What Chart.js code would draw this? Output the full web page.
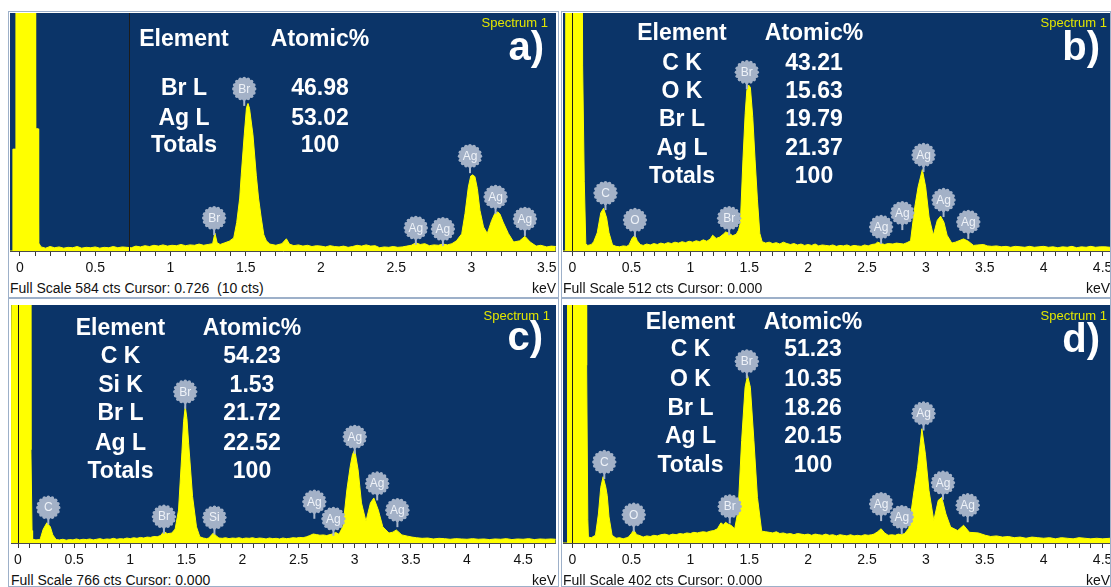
<!DOCTYPE html>
<html><head><meta charset="utf-8">
<script src="https://cdn.jsdelivr.net/npm/chart.js@4.4.0/dist/chart.umd.min.js"></script>
<style>
html,body{margin:0;padding:0;background:#fff}
body{width:1111px;height:587px;overflow:hidden;position:relative;font-family:"Liberation Sans",Arial,sans-serif}
.frame{position:absolute;border:1px solid #9db0c9;box-sizing:border-box}
canvas{position:absolute}
.t{position:absolute;transform:translate(-50%,-50%);white-space:nowrap;color:#fff;font-weight:bold;font-size:23px;line-height:1}
.lt{position:absolute;white-space:pre;line-height:1}
</style></head><body>
<script>
// ---------------- DATA ----------------
const fullScale = [584, 512, 766, 402];
const cursorKeV = [0.726, 0, 0, 0];
const cursorText = ['0.726  (10 cts)', '0.000', '0.000', '0.000'];
const panelTags = ['a)', 'b)', 'c)', 'd)'];
const tickLabelsA = [0, 0.5, 1, 1.5, 2, 2.5, 3, 3.5];
const tickLabelsB = [0, 0.5, 1, 1.5, 2, 2.5, 3, 3.5, 4, 4.5];

const aEnergy = [-0.066,-0.05,-0.047,-0.03,-0.027,0.10,0.104,0.12,0.124,0.14,0.17,0.2,0.23,0.26,0.29,0.32,0.35,0.38,0.41,0.44,0.47,0.5,0.53,0.56,0.59,0.62,0.65,0.68,0.71,0.74,0.77,0.8,0.83,0.86,0.89,0.92,0.95,0.98,1.01,1.04,1.07,1.1,1.13,1.16,1.19,1.22,1.25,1.28,1.295,1.31,1.33,1.36,1.39,1.42,1.44,1.46,1.47,1.49,1.505,1.515,1.525,1.548,1.57,1.585,1.603,1.62,1.637,1.66,1.7,1.74,1.77,1.79,1.82,1.85,1.88,1.91,1.94,1.97,2.0,2.03,2.06,2.09,2.12,2.15,2.18,2.21,2.24,2.27,2.3,2.33,2.36,2.39,2.42,2.45,2.48,2.51,2.54,2.57,2.6,2.63,2.66,2.69,2.72,2.75,2.78,2.81,2.84,2.87,2.90,2.935,2.957,2.979,2.995,3.01,3.023,3.039,3.056,3.08,3.105,3.134,3.155,3.175,3.19,3.21,3.245,3.28,3.32,3.355,3.39,3.43,3.46,3.5,3.53,3.56];
const aCounts = [0,0,250,250,900,900,300,300,20,10,7,11,8,10,7,9,8,11,7,9,8,10,7,9,8,11,8,10,9,8,12,10,13,11,14,12,15,12,14,13,16,13,15,14,17,14,16,18,44,20,16,20,24,32,70,130,186,285,352,362,350,285,186,130,81,40,25,17,14,18,30,17,13,15,12,14,11,13,12,10,13,11,10,12,9,11,14,12,15,12,13,8,10,9,11,9,10,12,14,20,16,18,13,15,14,17,15,18,25,42,92,157,184,187,182,153,100,59,43,75,92,96,90,71,43,22,25,36,22,12,14,10,12,11];

const bEnergy = [-0.081,-0.06,-0.055,0.08,0.086,0.10,0.113,0.13,0.16,0.18,0.21,0.24,0.264,0.29,0.31,0.34,0.37,0.4,0.43,0.46,0.48,0.505,0.53,0.55,0.575,0.6,0.63,0.66,0.69,0.72,0.75,0.78,0.81,0.84,0.87,0.9,0.93,0.96,0.99,1.02,1.05,1.08,1.11,1.14,1.17,1.19,1.22,1.25,1.28,1.30,1.33,1.36,1.39,1.41,1.425,1.447,1.466,1.48,1.495,1.51,1.53,1.55,1.57,1.59,1.61,1.64,1.67,1.7,1.73,1.76,1.79,1.82,1.85,1.88,1.91,1.94,1.97,2.0,2.03,2.06,2.09,2.12,2.15,2.18,2.21,2.24,2.27,2.3,2.33,2.36,2.39,2.42,2.45,2.48,2.51,2.54,2.57,2.59,2.62,2.65,2.68,2.72,2.75,2.78,2.81,2.84,2.87,2.906,2.934,2.97,2.998,3.027,3.063,3.097,3.125,3.153,3.18,3.22,3.25,3.28,3.32,3.36,3.405,3.44,3.49,3.52,3.56,3.6,3.64,3.68,3.72,3.76,3.8,3.84,3.88,3.92,3.96,4.0,4.04,4.08,4.12,4.16,4.2,4.24,4.28,4.32,4.36,4.4,4.44,4.48,4.52,4.565];
const bCounts = [0,0,900,900,400,150,15,12,14,20,39,82,92,71,39,13,10,9,11,10,13,27,34,22,14,12,15,13,16,14,17,15,18,16,19,17,20,18,21,19,22,20,24,21,26,34,27,30,36,41,38,33,36,45,60,196,296,346,357,352,289,196,110,38,20,17,19,16,18,15,19,16,14,16,13,15,12,14,12,15,11,13,12,11,13,10,12,11,13,10,12,11,10,13,11,14,15,19,16,14,16,15,17,16,15,18,22,95,138,175,138,73,34,66,75,62,34,17,19,22,26,21,12,13,14,11,10,11,9,10,8,10,9,8,10,8,9,10,8,9,7,9,8,10,7,9,8,10,8,9,9,8];

const cEnergy = [-0.065,-0.058,-0.053,0.11,0.115,0.125,0.13,0.16,0.19,0.2,0.224,0.257,0.288,0.31,0.34,0.37,0.4,0.43,0.46,0.49,0.52,0.55,0.58,0.61,0.64,0.67,0.7,0.73,0.76,0.79,0.82,0.85,0.88,0.91,0.94,0.97,1.0,1.03,1.06,1.09,1.12,1.15,1.18,1.21,1.24,1.27,1.30,1.33,1.37,1.40,1.43,1.46,1.475,1.49,1.505,1.52,1.555,1.59,1.62,1.65,1.68,1.70,1.74,1.77,1.79,1.82,1.85,1.88,1.91,1.94,1.97,2.0,2.03,2.06,2.09,2.12,2.15,2.18,2.21,2.24,2.27,2.3,2.33,2.36,2.39,2.42,2.45,2.48,2.51,2.54,2.57,2.6,2.63,2.66,2.69,2.72,2.75,2.78,2.81,2.83,2.86,2.895,2.93,2.96,2.98,3.0,3.03,3.06,3.10,3.14,3.17,3.21,3.25,3.305,3.34,3.37,3.42,3.47,3.51,3.55,3.6,3.65,3.7,3.75,3.8,3.85,3.9,3.95,4.0,4.05,4.1,4.15,4.2,4.25,4.3,4.35,4.4,4.45,4.5,4.55,4.6,4.65,4.7,4.75,4.79];
const cCounts = [0,0,900,900,300,40,12,10,11,15,44,65,52,26,11,10,12,9,11,10,13,10,12,11,13,10,12,14,11,13,12,15,12,14,13,16,14,17,15,18,16,19,18,21,20,24,37,30,32,45,106,290,390,440,400,321,150,52,20,16,14,16,32,22,16,15,17,14,16,15,17,14,16,15,17,14,16,15,13,16,14,15,13,16,14,15,17,16,18,17,20,24,29,27,25,26,24,27,30,34,28,54,171,247,285,300,235,129,70,129,145,106,52,32,35,42,26,22,19,17,15,16,13,15,14,12,14,13,12,14,12,13,11,13,12,14,11,13,12,14,11,13,12,13,12];

const dEnergy = [-0.081,-0.046,-0.042,0.115,0.12,0.13,0.135,0.16,0.195,0.22,0.24,0.26,0.283,0.295,0.31,0.336,0.37,0.4,0.43,0.46,0.475,0.5,0.52,0.545,0.565,0.6,0.63,0.66,0.69,0.72,0.75,0.785,0.82,0.85,0.88,0.91,0.94,0.97,1.0,1.03,1.06,1.08,1.11,1.14,1.17,1.2,1.23,1.26,1.28,1.30,1.32,1.345,1.377,1.406,1.436,1.465,1.486,1.51,1.54,1.57,1.606,1.64,1.67,1.7,1.73,1.76,1.79,1.82,1.85,1.88,1.91,1.94,1.97,2.0,2.03,2.06,2.09,2.12,2.15,2.18,2.21,2.24,2.27,2.3,2.33,2.36,2.39,2.42,2.45,2.48,2.51,2.54,2.56,2.59,2.62,2.65,2.68,2.71,2.74,2.765,2.79,2.82,2.855,2.9,2.93,2.966,2.996,3.026,3.067,3.105,3.135,3.17,3.21,3.27,3.32,3.37,3.445,3.505,3.55,3.6,3.65,3.7,3.75,3.8,3.85,3.9,3.95,4.0,4.05,4.1,4.15,4.2,4.25,4.3,4.35,4.4,4.45,4.5,4.565];
const dCounts = [0,0,900,900,300,40,10,9,13,49,94,112,94,80,44,13,8,9,7,9,10,16,22,14,13,10,12,11,13,12,14,15,13,15,14,16,15,17,16,18,17,18,19,18,20,21,24,34,31,35,32,30,24,55,173,263,283,263,173,77,20,19,18,17,19,16,17,15,16,14,16,15,14,15,13,15,14,13,15,13,14,12,14,13,12,14,12,13,12,14,13,14,15,19,24,17,13,14,13,15,14,16,25,89,128,193,150,89,38,72,77,49,27,21,30,18,17,13,11,12,10,11,9,10,8,10,9,8,9,7,9,8,7,9,8,7,8,7,8];

// peak identification markers
const aPeakEl = ['Br','Br','Ag','Ag','Ag','Ag','Ag'];
const aPeakE  = [1.29,1.49,2.63,2.81,2.99,3.16,3.355];
const aPeakC  = [39,356,15,12,191,91,37];
const bPeakEl = ['C','O','Br','Br','Ag','Ag','Ag','Ag','Ag'];
const bPeakE  = [0.28,0.53,1.33,1.48,2.62,2.80,2.98,3.15,3.36];
const bPeakC  = [88,30,34,348,15,45,170,73,26];
const cPeakEl = ['C','Br','Br','Si','Ag','Ag','Ag','Ag','Ag'];
const cPeakE  = [0.27,1.30,1.49,1.75,2.64,2.81,3.00,3.20,3.38];
const cPeakC  = [59,30,432,27,78,23,287,137,51];
const dPeakEl = ['C','O','Br','Br','Ag','Ag','Ag','Ag','Ag'];
const dPeakE  = [0.27,0.52,1.335,1.48,2.62,2.795,2.98,3.145,3.355];
const dPeakC  = [108,19,33,278,37,15,190,73,35];

// quantification tables
const aElements = ['Br L','Ag L','Totals'];
const aAtomic   = ['46.98','53.02','100'];
const bElements = ['C K','O K','Br L','Ag L','Totals'];
const bAtomic   = ['43.21','15.63','19.79','21.37','100'];
const cElements = ['C K','Si K','Br L','Ag L','Totals'];
const cAtomic   = ['54.23','1.53','21.72','22.52','100'];
const dElements = ['C K','O K','Br L','Ag L','Totals'];
const dAtomic   = ['51.23','10.35','18.26','20.15','100'];

// ---------------- LAYOUT ----------------
const panels = [
  {E:aEnergy,C:aCounts,PE:aPeakE,PC:aPeakC,PL:aPeakEl,rows:aElements,vals:aAtomic,majors:tickLabelsA,
   left:10,top:13,w:546,xmin:-0.0664,xmax:3.5615,
   colX:[184,320],headY:38,rowY:[87,117,144],tagRight:544,tagTop:26,specRight:548,specTop:16,
   frame:[8,11,551,287],textTop:280.5},
  {E:bEnergy,C:bCounts,PE:bPeakE,PC:bPeakC,PL:bPeakEl,rows:bElements,vals:bAtomic,majors:tickLabelsB,
   left:563,top:13,w:547,xmin:-0.0806,xmax:4.563,
   colX:[682,814],headY:32,rowY:[62,90,118,147,175],tagRight:1100,tagTop:26,specRight:1107,specTop:16,
   frame:[561,11,550,287],textTop:280.5},
  {E:cEnergy,C:cCounts,PE:cPeakE,PC:cPeakC,PL:cPeakEl,rows:cElements,vals:cAtomic,majors:tickLabelsB,
   left:11,top:305,w:545,xmin:-0.0624,xmax:4.793,
   colX:[120.5,252],headY:327,rowY:[355,384,412,441.5,470],tagRight:543,tagTop:316,specRight:550,specTop:309,
   frame:[8,298,551,289],textTop:572.5},
  {E:dEnergy,C:dCounts,PE:dPeakE,PC:dPeakC,PL:dPeakEl,rows:dElements,vals:dAtomic,majors:tickLabelsB,
   left:563,top:305,w:547,xmin:-0.0806,xmax:4.563,
   colX:[690.5,813],headY:321,rowY:[348,377.5,406.5,435,463.5],tagRight:1100,tagTop:318,specRight:1107,specTop:309,
   frame:[561,298,550,289],textTop:572.5}
];
const PLOT_H = 238, AXIS_H = 26;
const BLUE = '#0b3468', YEL = '#ffff00';

function addDiv(cls, text, css){
  const d = document.createElement('div'); d.className = cls; d.textContent = text;
  Object.assign(d.style, css); document.body.appendChild(d); return d;
}

const bgPlugin = {
  id:'bg',
  beforeDatasetsDraw(chart){
    const {ctx, chartArea:a} = chart;
    ctx.save(); ctx.fillStyle = BLUE; ctx.fillRect(a.left, a.top, a.right-a.left, a.bottom-a.top); ctx.restore();
  }
};

const markPlugin = {
  id:'marks',
  afterDatasetsDraw(chart, args, opts){
    const {ctx, chartArea:a} = chart;
    const xs = chart.scales.x, ys = chart.scales.y;
    ctx.save();
    // cursor
    const cx = Math.round(xs.getPixelForValue(opts.cursor)) + 0.5;
    ctx.strokeStyle = '#1c1c1c'; ctx.lineWidth = 1;
    ctx.beginPath(); ctx.moveTo(cx, a.top); ctx.lineTo(cx, a.bottom); ctx.stroke();
    // peak markers
    opts.PE.forEach((e, i) => {
      const px = xs.getPixelForValue(e), py = ys.getPixelForValue(opts.PC[i]);
      const cy = py - 17;
      ctx.strokeStyle = '#a9b7cc'; ctx.lineWidth = 2;
      ctx.beginPath(); ctx.moveTo(px, cy); ctx.lineTo(px, py); ctx.stroke();
      ctx.fillStyle = '#a3b1c7';
      for (let k = 0; k < 16; k++) {
        const an = k * Math.PI * 2 / 16;
        ctx.beginPath(); ctx.arc(px + Math.cos(an)*10.4, cy + Math.sin(an)*10.4, 1.8, 0, Math.PI*2); ctx.fill();
      }
      ctx.beginPath(); ctx.arc(px, cy, 10.8, 0, Math.PI*2); ctx.fill();
      ctx.fillStyle = '#eef2f8'; ctx.font = '12px "Liberation Sans", Arial, sans-serif';
      ctx.textAlign = 'center'; ctx.textBaseline = 'middle';
      ctx.fillText(opts.PL[i], px, cy + 0.5);
    });
    ctx.restore();
  }
};

panels.forEach((p, idx) => {
  // frame
  const f = document.createElement('div'); f.className = 'frame';
  Object.assign(f.style, {left:p.frame[0]+'px', top:p.frame[1]+'px', width:p.frame[2]+'px', height:p.frame[3]+'px'});
  document.body.appendChild(f);

  const cv = document.createElement('canvas');
  cv.width = p.w; cv.height = PLOT_H + AXIS_H;
  Object.assign(cv.style, {left:p.left+'px', top:p.top+'px', width:p.w+'px', height:(PLOT_H+AXIS_H)+'px'});
  document.body.appendChild(cv);

  const pts = p.E.map((e, i) => ({x:e, y:p.C[i]}));
  const majors = p.majors;
  new Chart(cv, {
    type:'line',
    data:{datasets:[{data:pts, borderColor:YEL, backgroundColor:YEL, borderWidth:1, pointRadius:0, fill:'origin', tension:0}]},
    options:{
      responsive:false, animation:false, devicePixelRatio:1,
      layout:{padding:0},
      plugins:{legend:{display:false}, tooltip:{enabled:false},
        marks:{cursor:cursorKeV[idx], PE:p.PE, PC:p.PC, PL:p.PL}},
      scales:{
        x:{type:'linear', position:'bottom', min:p.xmin, max:p.xmax,
          afterBuildTicks(axis){
            const t = [];
            for (let i = 0; i/10 <= p.xmax + 1e-9; i++) t.push({value: i/10});
            axis.ticks = t;
          },
          afterFit(axis){ axis.height = AXIS_H; axis.paddingLeft = 0; axis.paddingRight = 0; },
          grid:{display:true, drawOnChartArea:false, drawTicks:true, tickLength:5, color:'#3a3a3a', lineWidth:1},
          border:{display:true, color:'#4a4a4a', width:1},
          ticks:{autoSkip:false, maxRotation:0, minRotation:0, padding:4, color:'#111',
            font:{family:'"Liberation Sans", Arial, sans-serif', size:14},
            callback(v){ const m = majors.find(q => Math.abs(q - v) < 1e-6); return m === undefined ? '' : String(m); }}
        },
        y:{display:false, min:0, max:fullScale[idx]}
      }
    },
    plugins:[bgPlugin, markPlugin]
  });

  // quantification table text
  addDiv('t', 'Element', {left:p.colX[0]+'px', top:p.headY+'px'});
  addDiv('t', 'Atomic%', {left:p.colX[1]+'px', top:p.headY+'px'});
  p.rows.forEach((r, i) => {
    addDiv('t', r, {left:p.colX[0]+'px', top:p.rowY[i]+'px'});
    addDiv('t', p.vals[i], {left:p.colX[1]+'px', top:p.rowY[i]+'px'});
  });
  // panel tag
  addDiv('lt', panelTags[idx], {right:(1111-p.tagRight)+'px', top:p.tagTop+'px', color:'#fff', fontWeight:'bold', fontSize:'40px'});
  addDiv('lt', 'Spectrum 1', {right:(1111-p.specRight)+'px', top:p.specTop+'px', color:'#e2e600', fontSize:'13px'});
  // footer text
  addDiv('lt', 'Full Scale ' + fullScale[idx] + ' cts Cursor: ' + cursorText[idx], {left:p.left+'px', top:p.textTop+'px', color:'#111', fontSize:'14px'});
  addDiv('lt', 'keV', {right:(1111-(p.left+p.w))+'px', top:p.textTop+'px', color:'#111', fontSize:'14px'});
});
</script>
</body></html>
